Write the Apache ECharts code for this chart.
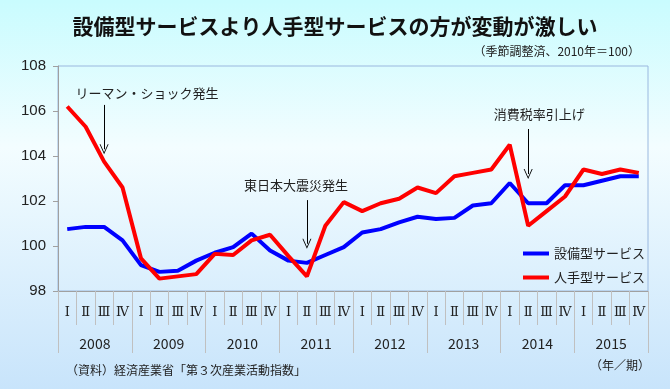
<!DOCTYPE html>
<html>
<head>
<meta charset="utf-8">
<script src="https://cdn.jsdelivr.net/npm/echarts@6/dist/echarts.min.js"></script>
<style>
html,body{margin:0;padding:0;}
#main{width:670px;height:389px;}
</style>
</head>
<body>
<div id="main"></div>
<script>
var years = ['2008','2009','2010','2011','2012','2013','2014','2015'];
var quarters = ['Ⅰ','Ⅱ','Ⅲ','Ⅳ'];
var equipService = [100.75,100.85,100.85,100.25,99.15,98.85,98.9,99.35,99.7,99.95,100.55,99.8,99.35,99.25,99.6,99.95,100.6,100.75,101.05,101.3,101.2,101.25,101.8,101.9,102.8,101.9,101.9,102.7,102.7,102.9,103.1,103.1];
var laborService = [106.2,105.3,103.75,102.6,99.45,98.55,98.65,98.75,99.65,99.6,100.25,100.5,99.55,98.65,100.9,101.95,101.55,101.9,102.1,102.6,102.35,103.1,103.25,103.4,104.5,100.9,101.55,102.2,103.4,103.2,103.4,103.25];
var seriesNames = ['設備型サービス','人手型サービス'];
var yTicks = {min: 98, max: 108, interval: 2};
var events = [
  {name: 'リーマン・ショック発生', idx: 2, from: 106.27, to: 104.3, textY: 106.8, dx: 43},
  {name: '東日本大震災発生', idx: 13, from: 102.04, to: 100.1, textY: 102.7, dx: -11},
  {name: '消費税率引上げ', idx: 25, from: 105.2, to: 103.2, textY: 105.87, dx: 11}
];

var qCats = [];
years.forEach(function(y){ quarters.forEach(function(q){ qCats.push(q); }); });

var font = "'Noto Sans CJK JP', sans-serif";
var chart = echarts.init(document.getElementById('main'), null, {renderer: 'canvas'});
var arrowPath = 'path://M0,10 L5,0 L10,10 L9,10 L5,2 L1,10 Z';

chart.setOption({
  animation: false,
  backgroundColor: {
    type: 'linear', x: 0, y: 0, x2: 0, y2: 1,
    colorStops: [
      {offset: 0, color: '#c9fcfe'},
      {offset: 0.38, color: '#f3fdff'},
      {offset: 1, color: '#c8e4fb'}
    ]
  },
  textStyle: {fontFamily: font},
  graphic: [
    {type: 'text', left: 'center', top: 16, style: {text: '設備型サービスより人手型サービスの方が変動が激しい', font: "bold 21px 'Noto Sans CJK JP'", fill: '#111'}},
    {type: 'text', right: 30, top: 45, style: {text: '（季節調整済、2010年＝100）', font: "12px 'Noto Sans CJK JP'", fill: '#222'}},
    {type: 'text', left: 66, top: 364, style: {text: '（資料）経済産業省「第３次産業活動指数」', font: "12px 'Noto Sans CJK JP'", fill: '#222'}},
    {type: 'text', right: 20, top: 359, style: {text: '（年／期）', font: "12px 'Noto Sans CJK JP'", fill: '#222'}}
  ],
  grid: {left: 58, right: 22, top: 66, bottom: 98, show: true, borderColor: '#9ab8df', borderWidth: 1, backgroundColor: 'transparent'},
  legend: {
    orient: 'vertical', left: 518, top: 242, itemWidth: 26, itemHeight: 4, icon: 'rect', itemGap: 11,
    textStyle: {fontSize: 13, color: '#222', fontFamily: font},
    data: seriesNames
  },
  xAxis: [
    {
      type: 'category', data: qCats, boundaryGap: true, position: 'bottom',
      axisLine: {show: true, lineStyle: {color: '#a0a0a0', width: 1}},
      axisTick: {show: true, interval: 0, length: 34, lineStyle: {color: '#c0c0c0'}},
      axisLabel: {interval: 0, margin: 15, fontSize: 13, color: '#222', fontFamily: "'DejaVu Serif', serif"},
      splitLine: {show: false}
    },
    {
      type: 'category', data: years, boundaryGap: true, position: 'bottom',
      axisLine: {show: false},
      axisTick: {show: true, interval: 0, length: 62, lineStyle: {color: '#c0c0c0'}},
      axisLabel: {interval: 0, margin: 46, fontSize: 14, color: '#222'},
      splitLine: {show: false}
    }
  ],
  yAxis: {
    type: 'value', min: yTicks.min, max: yTicks.max, interval: yTicks.interval,
    axisLine: {show: true, lineStyle: {color: '#a0a0a0'}},
    axisTick: {show: true, length: 5, lineStyle: {color: '#a0a0a0'}},
    axisLabel: {fontSize: 15, color: '#222', margin: 12, fontFamily: "'Liberation Sans', sans-serif"},
    splitLine: {show: false}
  },
  series: [
    {
      name: seriesNames[0], type: 'line', data: equipService, symbol: 'none', xAxisIndex: 0,
      lineStyle: {color: '#0000ff', width: 4}, itemStyle: {color: '#0000ff'}, z: 3
    },
    {
      name: seriesNames[1], type: 'line', data: laborService, symbol: 'none', xAxisIndex: 0,
      lineStyle: {color: '#ff0000', width: 4}, itemStyle: {color: '#ff0000'}, z: 4,
      markLine: {
        silent: true, symbol: ['none', arrowPath], symbolSize: [9, 10],
        lineStyle: {color: '#000', width: 1, type: 'solid'},
        label: {show: false},
        data: events.map(function(e){ return [{coord: [e.idx, e.from]}, {coord: [e.idx, e.to]}]; })
      },
      markPoint: {
        silent: true, symbol: 'circle', symbolSize: 1, itemStyle: {color: 'rgba(0,0,0,0)'},
        label: {show: true, position: 'inside', color: '#222', fontSize: 13, fontFamily: font},
        data: events.map(function(e){ return {coord: [e.idx, e.textY], value: e.name, label: {formatter: e.name, offset: [e.dx, 0]}}; })
      }
    }
  ]
});
</script>
</body>
</html>
